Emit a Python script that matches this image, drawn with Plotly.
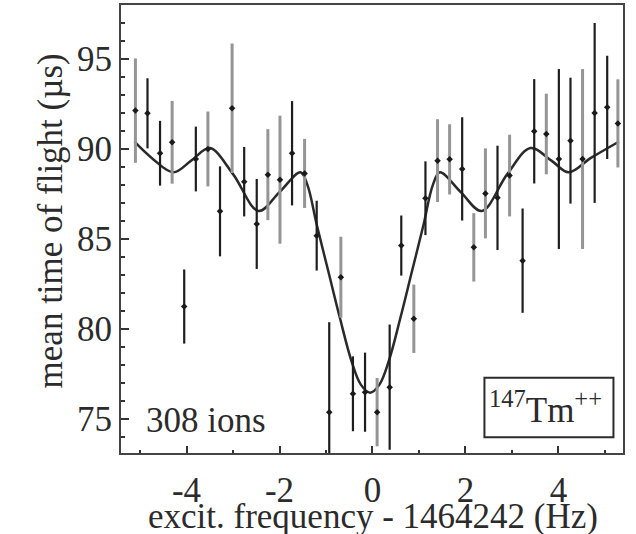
import plotly.graph_objects as go

# ---- data ----
freq = [-5.10, -4.84, -4.57, -4.31, -4.05, -3.80, -3.54, -3.28, -3.02, -2.76,
        -2.49, -2.25, -1.99, -1.73, -1.46, -1.20, -0.93, -0.68, -0.42, -0.16,
        0.10, 0.37, 0.62, 0.89, 1.14, 1.40, 1.66, 1.93, 2.18, 2.43,
        2.69, 2.95, 3.23, 3.48, 3.74, 4.01, 4.26, 4.52, 4.78, 5.05, 5.28]
tof = [92.13, 91.98, 89.76, 90.37, 81.24, 89.44, 90.00, 86.53, 92.26, 88.18,
       85.83, 88.57, 88.29, 89.76, 88.64, 85.18, 75.37, 82.87, 76.39, 76.48,
       75.37, 76.76, 84.63, 80.56, 87.26, 89.35, 89.42, 88.89, 84.53, 87.53,
       87.28, 88.52, 83.79, 90.98, 90.83, 89.44, 90.46, 89.44, 92.00, 92.31, 91.42]
err = [2.9, 1.95, 1.8, 2.3, 2.06, 1.8, 2.08, 2.5, 3.6, 1.93,
       2.5, 2.53, 3.56, 2.9, 1.92, 1.94, 5.0, 2.25, 2.08, 2.2,
       1.9, 3.48, 1.67, 1.9, 2.05, 2.3, 1.95, 2.87, 1.9, 2.5,
       2.9, 2.27, 2.9, 2.9, 2.24, 5.0, 3.5, 5.0, 5.0, 2.87, 2.45]
shade = ["g", "k", "k", "g", "k", "k", "g", "k", "g", "k",
         "k", "g", "g", "k", "g", "k", "k", "g", "k", "k",
         "g", "k", "k", "g", "k", "g", "g", "k", "g", "g",
         "k", "g", "k", "k", "g", "k", "k", "g", "k", "k", "g"]

fit_x = [-5.12, -4.75, -4.28, -3.90, -3.50, -3.00, -2.45, -2.00, -1.55, -1.40,
         -1.20, -0.95, -0.70, -0.45, -0.25, -0.05, 0.15, 0.35, 0.60, 0.85,
         1.10, 1.30, 1.45, 1.90, 2.35, 2.90, 3.40, 3.85, 4.22, 4.70, 5.30]
fit_y = [90.40, 89.50, 88.70, 89.35, 90.05, 88.60, 86.55, 87.60, 88.70, 88.00,
         85.80, 83.20, 80.60, 78.20, 76.90, 76.45, 76.90, 78.20, 80.60, 83.20,
         85.80, 88.00, 88.70, 87.60, 86.55, 88.60, 90.05, 89.35, 88.70, 89.50, 90.40]

x_ticks = [-4, -2, 0, 2, 4]
y_ticks = [75, 80, 85, 90, 95]

FONT = "Liberation Serif, Times New Roman, serif"
TXT = "#2b2b2b"

fig = go.Figure()

fig.add_trace(go.Scatter(x=fit_x, y=fit_y, mode="lines",
                         line=dict(color="#2a2a2a", width=2.5, shape="spline", smoothing=1.0),
                         hoverinfo="skip", showlegend=False))

for key, col, w in [("g", "#959595", 3), ("k", "#1e1e1e", 2.2)]:
    xs = [f for f, s in zip(freq, shade) if s == key]
    ys = [t for t, s in zip(tof, shade) if s == key]
    es = [e for e, s in zip(err, shade) if s == key]
    fig.add_trace(go.Scatter(x=xs, y=ys, mode="markers",
                             marker=dict(color="#1a1a1a", size=5, symbol="diamond"),
                             error_y=dict(type="data", array=es, visible=True,
                                          color=col, thickness=w, width=0),
                             showlegend=False))

fig.add_annotation(x=-4.92, y=74.9, xref="x", yref="y", text="308 ions",
                   showarrow=False, xanchor="left", yanchor="middle",
                   font=dict(family=FONT, size=35, color=TXT))

fig.add_shape(type="rect", xref="paper", yref="paper",
              x0=0.724, x1=0.981, y0=0.035, y1=0.168,
              line=dict(color="#2b2b2b", width=2), fillcolor="white")
fig.add_annotation(x=0.846, y=0.1015, xref="paper", yref="paper",
                   text="<sup>147</sup>Tm<sup>++</sup>", showarrow=False,
                   xanchor="center", yanchor="middle",
                   font=dict(family=FONT, size=35, color=TXT))

# axis titles placed as annotations for exact positioning
fig.add_annotation(x=0.501, y=-0.141, xref="paper", yref="paper",
                   text="excit. frequency - 1464242 (Hz)", showarrow=False,
                   xanchor="center", yanchor="middle",
                   font=dict(family=FONT, size=35, color=TXT))
fig.add_annotation(x=-0.1414, y=0.517, xref="paper", yref="paper",
                   text="mean time of flight (µs)", showarrow=False, textangle=-90,
                   xanchor="center", yanchor="middle",
                   font=dict(family=FONT, size=35, color=TXT))

fig.update_xaxes(range=[-5.41, 5.39], tickvals=x_ticks,
                 ticktext=[str(v) if v >= 0 else "-" + str(-v) for v in x_ticks],
                 ticks="inside", ticklen=7, tickwidth=2, tickcolor="#333",
                 minor=dict(dtick=1, ticks="inside", ticklen=3, tickwidth=2, tickcolor="#333"),
                 showline=True, linecolor="#444", linewidth=2, mirror=True,
                 showgrid=False, zeroline=False, ticklabelstandoff=5,
                 tickfont=dict(family=FONT, size=35, color=TXT))
fig.update_yaxes(range=[73.1, 98.0], tickvals=y_ticks,
                 ticks="inside", ticklen=8, tickwidth=2, tickcolor="#333",
                 minor=dict(dtick=1, ticks="inside", ticklen=4, tickwidth=2, tickcolor="#333"),
                 showline=True, linecolor="#444", linewidth=2, mirror=True,
                 showgrid=False, zeroline=False,
                 tickfont=dict(family=FONT, size=35, color=TXT))

fig.update_layout(width=636, height=534, plot_bgcolor="white", paper_bgcolor="white",
                  margin=dict(l=121, r=13, t=5, b=81, autoexpand=False),
                  showlegend=False)

fig.write_html("out.html", config={"displayModeBar": False},
               post_script="document.body.style.margin='0';")
